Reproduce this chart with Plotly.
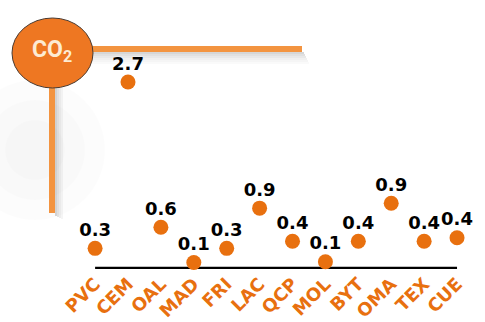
import plotly.graph_objects as go

categories = ["PVC", "CEM", "OAL", "MAD", "FRI", "LAC", "QCP", "MOL", "BYT", "OMA", "TEX", "CUE"]
values = [0.3, 2.66, 0.6, 0.1, 0.3, 0.87, 0.4, 0.11, 0.4, 0.94, 0.4, 0.45]
labels = ["0.3", "2.7", "0.6", "0.1", "0.3", "0.9", "0.4", "0.1", "0.4", "0.9", "0.4", "0.4"]

W, H = 485, 322
B = 53
PH = H - B  # plot area height in px

ORANGE = "#E8700F"
LINE_OR = "#F39440"

def px(x):
    return x / W

def py(y):
    return 1 - y / PH

fig = go.Figure()

# value labels
fig.add_trace(go.Scatter(
    x=categories, y=values, mode="markers+text",
    text=labels, textposition="top center",
    marker=dict(size=11, color="rgba(0,0,0,0)"),
    textfont=dict(family="DejaVu Sans", size=18, color="black", weight="bold",
                  shadow="0px 0px 2px white"),
    cliponaxis=False, hoverinfo="skip",
))
fig.add_trace(go.Scatter(
    x=categories, y=values, mode="markers",
    marker=dict(size=15, color=ORANGE, line=dict(width=0)),
    cliponaxis=False, hoverinfo="skip",
))

shapes = []
# faint glow on the left
for r, a in [(70, 0.012), (50, 0.012), (30, 0.01)]:
    shapes.append(dict(type="circle", xref="paper", yref="paper",
                       x0=px(35 - r), x1=px(35 + r), y0=py(150 + r), y1=py(150 - r),
                       fillcolor=f"rgba(0,0,0,{a})", line=dict(width=0), layer="below"))
# shadow under horizontal line
for i, a in enumerate([0.16, 0.12, 0.09, 0.06, 0.04, 0.02]):
    shapes.append(dict(type="rect", xref="paper", yref="paper",
                       x0=px(92), x1=px(304 + i), y0=py(52 + 2 * i), y1=py(54 + 2 * i),
                       fillcolor=f"rgba(0,0,0,{a})", line=dict(width=0), layer="below"))
# shadow right of vertical line
for i, a in enumerate([0.16, 0.11, 0.07, 0.04]):
    shapes.append(dict(type="rect", xref="paper", yref="paper",
                       x0=px(55 + 2 * i), x1=px(57 + 2 * i), y0=py(216 + i), y1=py(88),
                       fillcolor=f"rgba(0,0,0,{a})", line=dict(width=0), layer="below"))
# horizontal orange line
shapes.append(dict(type="rect", xref="paper", yref="paper",
                   x0=px(88), x1=px(302), y0=py(52), y1=py(46),
                   fillcolor=LINE_OR, line=dict(width=0), layer="below"))
# vertical orange line
shapes.append(dict(type="rect", xref="paper", yref="paper",
                   x0=px(49), x1=px(55), y0=py(213), y1=py(84),
                   fillcolor=LINE_OR, line=dict(width=0), layer="below"))
# CO2 badge
shapes.append(dict(type="circle", xref="paper", yref="paper",
                   x0=px(12), x1=px(93), y0=py(88), y1=py(18),
                   fillcolor="#EE7722", line=dict(width=1, color="#4a3a30"), layer="above"))
# baseline
shapes.append(dict(type="line", xref="x", yref="y",
                   x0=categories[0], x1=categories[-1], y0=0.02, y1=0.02,
                   line=dict(width=2.5, color="black"), layer="below"))

fig.update_layout(
    width=W, height=H,
    margin=dict(l=0, r=0, t=0, b=B, autoexpand=False),
    paper_bgcolor="white", plot_bgcolor="white",
    showlegend=False,
    shapes=shapes,
    annotations=[dict(xref="paper", yref="paper", x=px(52), y=py(51),
                      xanchor="center", yanchor="middle",
                      text="CO<sub>2</sub>", showarrow=False,
                      font=dict(family="Roboto", size=23, color="#FDEBD3", weight="bold"))],
    xaxis=dict(type="category", range=[-2.89, 11.85], showgrid=False, zeroline=False,
               showline=False, ticks="", tickangle=-45, automargin=False,
               tickfont=dict(family="DejaVu Sans", size=18, color=ORANGE, weight="bold"),
               fixedrange=True),
    yaxis=dict(range=[0.007, 3.823], showgrid=False, zeroline=False, showline=False,
               showticklabels=False, automargin=False, fixedrange=True),
)

fig.write_html("out.html")
